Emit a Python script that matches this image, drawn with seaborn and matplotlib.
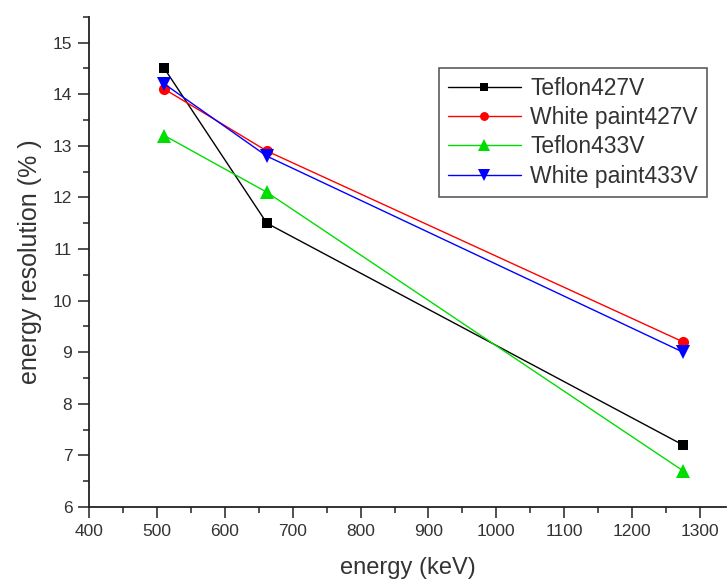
import numpy as np
import pandas as pd
import matplotlib
matplotlib.use("Agg")
import matplotlib.pyplot as plt
import seaborn as sns
from matplotlib.ticker import MultipleLocator

energy = [511, 662, 1275]
teflon427 = [14.5, 11.5, 7.2]
white427 = [14.1, 12.9, 9.2]
teflon433 = [13.2, 12.1, 6.7]
white433 = [14.2, 12.8, 9.0]
series_names = ["Teflon427V", "White paint427V", "Teflon433V", "White paint433V"]

sns.set_style("ticks")
plt.rcParams['font.family'] = ['Liberation Sans', 'DejaVu Sans']

rows = []
for name, vals in zip(series_names, [teflon427, white427, teflon433, white433]):
    for e, v in zip(energy, vals):
        rows.append({"energy": e, "res": v, "series": name})
df = pd.DataFrame(rows)

palette = {"Teflon427V": "#000000", "White paint427V": "#ff0000",
           "Teflon433V": "#00dd00", "White paint433V": "#0000ff"}
markers = {"Teflon427V": "s", "White paint427V": "o",
           "Teflon433V": "^", "White paint433V": "v"}
sizes_m = {"Teflon427V": 6.5, "White paint427V": 8,
           "Teflon433V": 10, "White paint433V": 10}

fig = plt.figure(figsize=(7.27, 5.82), dpi=100)
ax = fig.add_axes([0.1224, 0.129, 0.876, 0.842])

for name in series_names:
    sub = df[df["series"] == name]
    sns.lineplot(data=sub, x="energy", y="res", ax=ax, color=palette[name],
                 marker=markers[name], markersize=sizes_m[name],
                 markeredgewidth=0, linewidth=1.0, label=name)

ax.set_xlim(400, 1338)
ax.set_ylim(6, 15.5)
ax.xaxis.set_major_locator(MultipleLocator(100))
ax.xaxis.set_minor_locator(MultipleLocator(50))
ax.yaxis.set_major_locator(MultipleLocator(1))
ax.yaxis.set_minor_locator(MultipleLocator(0.5))
ax.tick_params(which='major', length=8, width=1.2, direction='out', labelsize=12.5, colors='#333333', pad=4)
ax.tick_params(which='minor', length=4, width=1.2, direction='out', colors='#333333')
for lab in ax.get_xticklabels() + ax.get_yticklabels():
    lab.set_color('#333333')
sns.despine(ax=ax)
for s in ["left", "bottom"]:
    ax.spines[s].set_linewidth(1.3)
    ax.spines[s].set_color('#222222')

ax.set_xlabel("energy (keV)", fontsize=17, color='#333333', labelpad=13)
ax.set_ylabel("energy resolution (% )", fontsize=18, color='#333333', labelpad=8)

leg = ax.legend(loc='upper right', bbox_to_anchor=(0.970, 0.896), borderaxespad=0,
                fontsize=16.5, frameon=True, fancybox=False, edgecolor='#333333',
                handlelength=3.2, handletextpad=0.4, labelspacing=0.28,
                borderpad=0.38, markerscale=0.8)
leg.get_frame().set_linewidth(1.2)
for t in leg.get_texts():
    t.set_color('#333333')

fig.savefig("out.png", dpi=100)
